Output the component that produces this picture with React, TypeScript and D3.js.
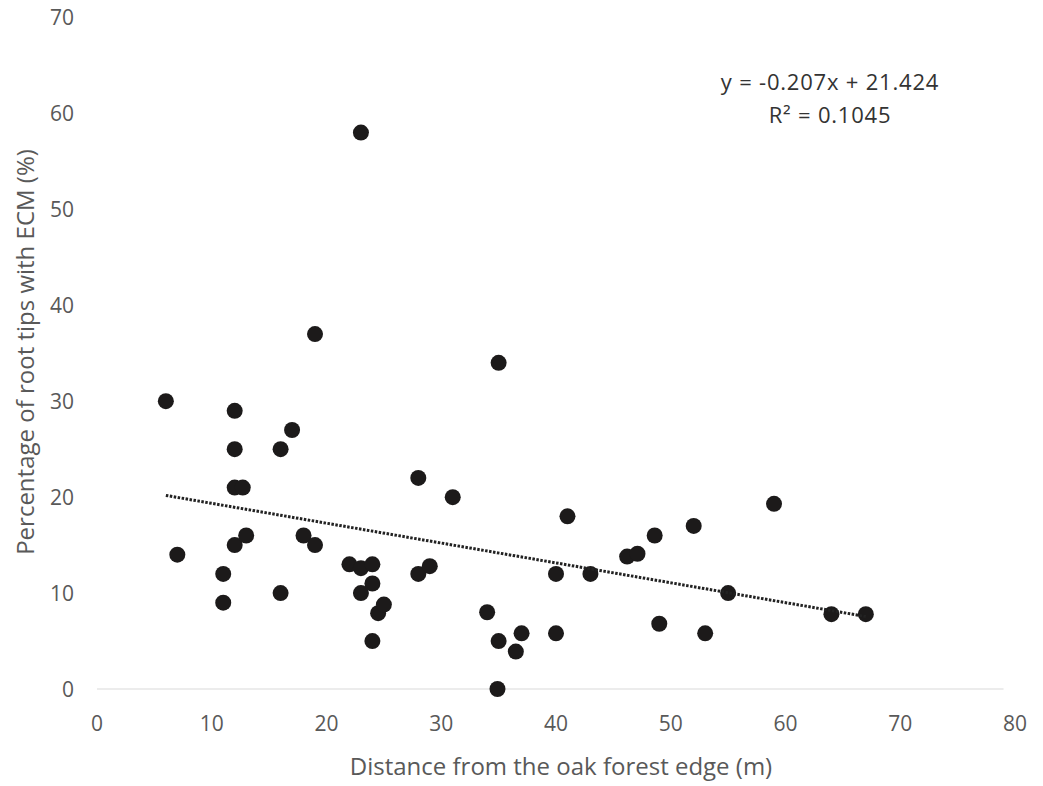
import React from "react";
import * as d3 from "d3";

const distance = [6, 7, 11, 11, 12, 12, 12, 12.7, 12, 13, 16, 16, 17, 18, 19, 19, 22, 23, 24, 23, 23, 24, 24.5, 25, 24, 28, 28, 29, 31, 34, 35, 35, 34.9, 36.5, 37, 40, 40, 41, 43, 46.2, 47.1, 48.6, 49, 52, 53, 55, 59, 64, 67];
const ecmPercent = [30, 14, 12, 9, 29, 25, 21, 21, 15, 16, 25, 10, 27, 16, 15, 37, 13, 12.6, 13, 58, 10, 11, 7.9, 8.8, 5, 22, 12, 12.8, 20, 8, 34, 5, 0, 3.9, 5.8, 12, 5.8, 18, 12, 13.8, 14.1, 16, 6.8, 17, 5.8, 10, 19.3, 7.8, 7.8];
const xTicks = [0, 10, 20, 30, 40, 50, 60, 70, 80];
const yTicks = [0, 10, 20, 30, 40, 50, 60, 70];
const slope = -0.207;
const intercept = 21.424;
const equationText = "y = -0.207x + 21.424";
const r2Text = "R² = 0.1045";
const xTitle = "Distance from the oak forest edge (m)";
const yTitle = "Percentage of root tips with ECM (%)";

export default function App() {
  const W = 1043, H = 786;
  const x = d3.scaleLinear().domain([0, 80]).range([97, 1015]);
  const y = d3.scaleLinear().domain([0, 70]).range([689, 17.5]);
  const font = "'Open Sans', sans-serif";
  const textColor = "#595959";
  const xMin = d3.min(distance) as number;
  const xMax = d3.max(distance) as number;
  const line = d3.line<number>().x((d) => x(d)).y((d) => y(slope * d + intercept));
  return (
    <svg width={W} height={H} style={{ position: "absolute", left: 0, top: 0, background: "#fff" }}>
      <rect width={W} height={H} fill="#fff" />
      <line x1={x(0)} x2={x(79)} y1={y(0)} y2={y(0)} stroke="#ececec" strokeWidth={2} />
      {yTicks.map((t) => (
        <text key={"y" + t} x={74} y={y(t)} dy="0.36em" textAnchor="end" fontFamily={font} fontSize={21} fill={textColor}>
          {t}
        </text>
      ))}
      {xTicks.map((t) => (
        <text key={"x" + t} x={x(t)} y={723} dy="0.36em" textAnchor="middle" fontFamily={font} fontSize={21} fill={textColor}>
          {t}
        </text>
      ))}
      <text x={561} y={766} dy="0.36em" textAnchor="middle" fontFamily={font} fontSize={24} fill={textColor}>
        {xTitle}
      </text>
      <text transform={`translate(25,352) rotate(-90)`} textAnchor="middle" dy="0.36em" fontFamily={font} fontSize={24} fill={textColor}>
        {yTitle}
      </text>
      {distance.map((d, i) => (
        <circle key={i} cx={x(d)} cy={y(ecmPercent[i])} r={8} fill="#1c1a1a" />
      ))}
      <path d={line([xMin, xMax]) || ""} stroke="#222" strokeWidth={3} strokeDasharray="2.5 1.5" fill="none" />
      <text x={830} y={82} dy="0.36em" textAnchor="middle" fontFamily={font} fontSize={22} letterSpacing={0.8} fill="#333">
        {equationText}
      </text>
      <text x={830} y={115} dy="0.36em" textAnchor="middle" fontFamily={font} fontSize={22} letterSpacing={0.8} fill="#333">
        {r2Text}
      </text>
    </svg>
  );
}
